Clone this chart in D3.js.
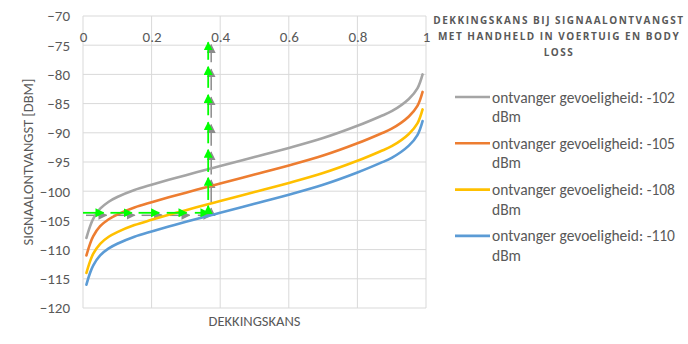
<!DOCTYPE html>
<html><head><meta charset="utf-8">
<script src="https://cdn.jsdelivr.net/npm/d3@7"></script>
<style>
html,body{margin:0;padding:0;background:#fff;}
svg{display:block;}
</style></head>
<body><svg id="c" width="688" height="344"></svg>
<script>
// ---- data ----
const coverage = [0.01, 0.02, 0.03, 0.05, 0.075, 0.1, 0.15, 0.2, 0.25, 0.3, 0.37, 0.4, 0.5, 0.6, 0.7, 0.8, 0.866, 0.9, 0.95, 0.975, 0.99];
const rx102 = [-108, -106.1, -104.7, -103, -101.8, -101.0, -99.8, -98.9, -98.05, -97.25, -96.15, -95.68, -94.15, -92.6, -90.9, -88.8, -87.2, -86.3, -84.2, -82.4, -80];
const rx105 = [-111, -109.1, -107.7, -106, -104.8, -104.0, -102.8, -101.9, -101.05, -100.25, -99.15, -98.68, -97.15, -95.6, -93.9, -91.8, -90.2, -89.3, -87.2, -85.4, -83];
const rx108 = [-114, -112.1, -110.7, -109, -107.8, -107.0, -105.8, -104.9, -104.05, -103.25, -102.15, -101.68, -100.15, -98.6, -96.9, -94.8, -93.2, -92.3, -90.2, -88.4, -86];
const rx110 = [-116, -114.1, -112.7, -111, -109.8, -109.0, -107.8, -106.9, -106.05, -105.25, -104.15, -103.68, -102.15, -100.6, -98.9, -96.8, -95.2, -94.3, -92.2, -90.4, -88];
const seriesNames = ["ontvanger gevoeligheid: -102 dBm", "ontvanger gevoeligheid: -105 dBm", "ontvanger gevoeligheid: -108 dBm", "ontvanger gevoeligheid: -110 dBm"];
const seriesColors = ["#a5a5a5", "#ed7d31", "#ffc000", "#5b9bd5"];
const xTicks = [0, 0.2, 0.4, 0.6, 0.8, 1];
const xTickLabels = ["0", "0.2", "0.4", "0.6", "0.8", "1"];
const yTicks = [-120, -115, -110, -105, -100, -95, -90, -85, -80, -75, -70];
const titleLines = ["DEKKINGSKANS BIJ SIGNAALONTVANGST", "MET HANDHELD IN VOERTUIG EN BODY", "LOSS"];
const xTitle = "DEKKINGSKANS";
const yTitle = "SIGNAALONTVANGST [DBM]";
// annotation arrows (data space)
const hArrowY = -103.7;
const hArrowFrom = [0, 0.08, 0.162, 0.244, 0.326];
const hArrowTo = [0.06, 0.142, 0.222, 0.302, 0.366];
const vArrowX = 0.365;
const vArrowFrom = [-103.6, -101.5, -96.7, -91.8, -87, -82.3, -77.5];
const vArrowTo = [-102.5, -97.7, -92.9, -88.2, -83.5, -78.7, -74.5];

// ---- layout ----
const svg = d3.select("#c");
const L = 83, R = 426, T = 16, B = 308;
const x = d3.scaleLinear().domain([0, 1]).range([L, R]);
const y = d3.scaleLinear().domain([-120, -70]).range([B, T]);
const txt = "#595959";
const font = "Carlito, 'Liberation Sans', Arial, sans-serif";

// grid
svg.append("g").selectAll("line").data(yTicks).join("line")
  .attr("x1", L).attr("x2", R).attr("y1", d => y(d)).attr("y2", d => y(d))
  .attr("stroke", "#d9d9d9").attr("stroke-width", 1);
svg.append("g").selectAll("line").data(xTicks).join("line")
  .attr("x1", d => x(d)).attr("x2", d => x(d)).attr("y1", T).attr("y2", B)
  .attr("stroke", "#d9d9d9").attr("stroke-width", 1);

// y tick labels
const yAxis = d3.axisLeft(y).tickValues(yTicks).tickSize(0).tickPadding(13);
const gy = svg.append("g").attr("transform", `translate(${L},0)`).call(yAxis);
gy.select(".domain").remove();
gy.selectAll("text").attr("fill", txt).attr("font-size", 15).attr("font-family", font);

// x tick labels at top
const xAxis = d3.axisTop(x).tickValues(xTicks).tickFormat((d, i) => xTickLabels[i]).tickSize(0).tickPadding(0);
const gx = svg.append("g").attr("transform", `translate(0,${T + 26})`).call(xAxis);
gx.select(".domain").remove();
gx.selectAll("text").attr("fill", txt).attr("font-size", 15).attr("font-family", font);

// axis titles
svg.append("text").attr("x", (L + R) / 2).attr("y", 326).attr("text-anchor", "middle")
  .attr("fill", txt).attr("font-size", 14.5).attr("font-family", font).text(xTitle);
svg.append("text").attr("transform", `translate(33,${(T + B) / 2}) rotate(-90)`).attr("text-anchor", "middle")
  .attr("fill", txt).attr("font-size", 14.5).attr("font-family", font).text(yTitle);

// arrows
const defs = svg.append("defs");
function marker(id, color) {
  defs.append("marker").attr("id", id).attr("markerUnits", "userSpaceOnUse")
    .attr("viewBox", "0 0 10 10").attr("refX", 9).attr("refY", 5)
    .attr("markerWidth", 9).attr("markerHeight", 9).attr("orient", "auto")
    .append("path").attr("d", "M0,0 L10,5 L0,10 Z").attr("fill", color);
}
marker("ag", "#8c8c8c");
marker("agr", "#00ff00");
function arrows(dx, dy, color, mk, w) {
  const g = svg.append("g").attr("transform", `translate(${dx},${dy})`);
  g.selectAll("line.h").data(hArrowFrom).join("line").attr("class", "h")
    .attr("x1", d => x(d)).attr("x2", (d, i) => x(hArrowTo[i]))
    .attr("y1", y(hArrowY)).attr("y2", y(hArrowY))
    .attr("stroke", color).attr("stroke-width", w).attr("marker-end", `url(#${mk})`);
  g.selectAll("line.v").data(vArrowFrom).join("line").attr("class", "v")
    .attr("x1", x(vArrowX)).attr("x2", x(vArrowX))
    .attr("y1", d => y(d)).attr("y2", (d, i) => y(vArrowTo[i]))
    .attr("stroke", color).attr("stroke-width", w).attr("marker-end", `url(#${mk})`);
}

// series lines
const seriesValues = [rx102, rx105, rx108, rx110];
const line = d3.line().x((d, i) => x(coverage[i])).y(d => y(d)).curve(d3.curveCatmullRom.alpha(0.5));
arrows(3, 2.5, "#8c8c8c", "ag", 1.5);
svg.append("g").selectAll("path").data(seriesValues).join("path")
  .attr("d", d => line(d)).attr("fill", "none")
  .attr("stroke", (d, i) => seriesColors[i]).attr("stroke-width", 2.6).attr("stroke-linecap", "round");
arrows(0, 0, "#00ff00", "agr", 1.8);

// title
svg.append("g").selectAll("text").data(titleLines).join("text")
  .attr("x", 559).attr("y", (d, i) => 24 + i * 16).attr("text-anchor", "middle")
  .attr("fill", txt).attr("font-size", 10).attr("font-weight", "bold").attr("letter-spacing", 1.5)
  .attr("font-family", "'Open Sans', sans-serif").text(d => d);

// legend
const lg = svg.append("g").selectAll("g").data(seriesNames).join("g")
  .attr("transform", (d, i) => `translate(0,${97 + i * 46.3})`);
lg.append("line").attr("x1", 455).attr("x2", 490).attr("y1", 0).attr("y2", 0)
  .attr("stroke", (d, i) => seriesColors[i]).attr("stroke-width", 2.6);
lg.each(function (d) {
  const parts = d.split(" dBm");
  const t = d3.select(this).append("text").attr("fill", txt).attr("font-size", 15.5).attr("font-family", font);
  t.append("tspan").attr("x", 492).attr("y", 5.5).text(parts[0]);
  t.append("tspan").attr("x", 492).attr("y", 25).text("dBm");
});
</script></body></html>
